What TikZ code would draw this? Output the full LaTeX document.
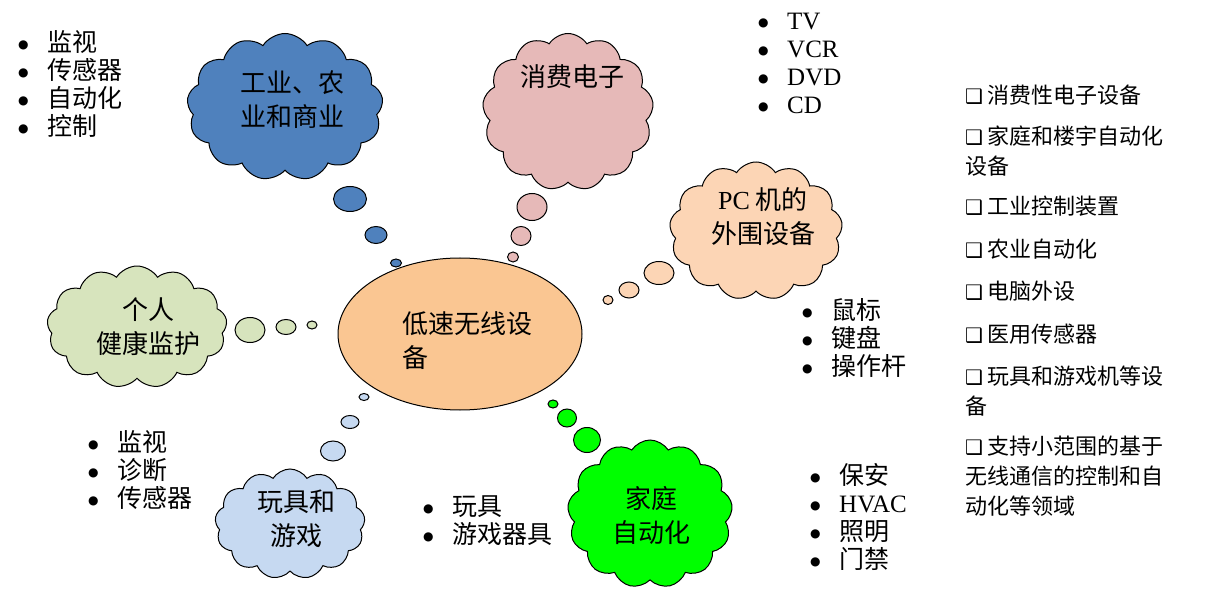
\documentclass[tikz,border=0pt]{standalone}
\usepackage{fontspec}
\setmainfont{Liberation Serif}
\newfontfamily\cjk{Noto Sans CJK SC}
\newfontfamily\symb{DejaVu Sans}
\usepackage{tikz}
\usetikzlibrary{shapes,shapes.symbols,positioning}
\definecolor{cloud-blue}{RGB}{79,129,189}
\definecolor{cloud-pink}{RGB}{230,185,184}
\definecolor{cloud-peach}{RGB}{252,213,181}
\definecolor{cloud-sage}{RGB}{215,228,189}
\definecolor{cloud-sky}{RGB}{198,217,241}
\definecolor{cloud-green}{RGB}{0,255,0}
\definecolor{core-orange}{RGB}{250,198,146}
\tikzstyle{thought}=[cloud, cloud puffs=13, cloud puff arc=115, draw, line width=1pt, inner sep=0pt]
\tikzstyle{core}=[ellipse, draw, line width=1pt, fill=core-orange]
\tikzstyle{bigtext}=[font=\fontsize{26}{34}\selectfont\cjk, align=center, inner sep=0pt]
\tikzstyle{itemlist}=[font=\fontsize{25}{28}\selectfont, align=left, anchor=north west, inner sep=0pt]
\tikzstyle{arealist}=[font=\fontsize{22}{30}\selectfont\cjk, align=left, anchor=north west, inner sep=0pt]
\newcommand{\bul}{\makebox[29pt][l]{\raisebox{3pt}{\symb\fontsize{12}{12}\selectfont ●}}}
\newcommand{\sqbox}{{\symb\bfseries\fontsize{20}{20}\selectfont ❑}\hspace{4pt}}

\begin{document}
\begin{tikzpicture}[x=1pt,y=-1pt]
	\useasboundingbox (0,0) rectangle (1209,593);
	% thought clouds
	\node[thought, fill=cloud-blue, minimum width=196pt, minimum height=147pt] (ind) at (285,107) {};
	\node[thought, fill=cloud-pink, minimum width=171pt, minimum height=157pt] (cons) at (568,112) {};
	\node[thought, fill=cloud-peach, minimum width=173pt, minimum height=138pt] (pc) at (756,231) {};
	\node[thought, fill=cloud-sage, minimum width=180pt, minimum height=122pt] (health) at (137,327) {};
	\node[thought, fill=cloud-sky, minimum width=150pt, minimum height=110pt] (toys) at (290,524) {};
	\node[thought, fill=cloud-green, minimum width=165pt, minimum height=148pt] (home) at (650,514) {};
	\node[bigtext] (ind-txt) at (292,100) {工业、农\\业和商业};
	\node[bigtext] (cons-txt) at (572,77) {消费电子};
	\node[bigtext] (pc-txt) at (763,217) {{\rmfamily PC} 机的\\外围设备};
	\node[bigtext] (health-txt) at (148,327) {个人\\健康监护};
	\node[bigtext] (toys-txt) at (296,519) {玩具和\\游戏};
	\node[bigtext] (home-txt) at (651,516) {家庭\\自动化};
	% centre
	\node[core, minimum width=244pt, minimum height=152pt] (lr) at (460,334) {};
	\node[bigtext, align=left, anchor=west] (lr-txt) at (402,341) {低速无线设\\备};
	% bubbles
	\foreach \x/\y/\rx/\ry/\c in {350/199/16.5/12.5/cloud-blue, 376/235/11/8.5/cloud-blue, 396/263/5.5/4/cloud-blue,
		532/207/15/13.5/cloud-pink, 521/236/10/9.5/cloud-pink, 513/257/5.5/5/cloud-pink,
		659/273/15/11.5/cloud-peach, 629/290/10/8/cloud-peach, 608/300/5/4.5/cloud-peach,
		250/330/15/12.5/cloud-sage, 286/327/10/7.5/cloud-sage, 312/325/5/4/cloud-sage,
		333/451/12.5/10/cloud-sky, 350/422/9/6.5/cloud-sky, 364/397/5/3.5/cloud-sky,
		587/440/13.5/12.5/cloud-green, 567/418/9.5/9/cloud-green, 553/404/5/4/cloud-green}
		\filldraw[fill=\c, line width=1pt] (\x,\y) ellipse (\rx pt and \ry pt);
	% bullet lists
	\node[itemlist] (ind-list) at (18,30) {\bul{\cjk 监视}\\\bul{\cjk 传感器}\\\bul{\cjk 自动化}\\\bul{\cjk 控制}};
	\node[itemlist] (cons-list) at (758,13) {\bul TV\\\bul VCR\\\bul DVD\\\bul CD};
	\node[itemlist] (pc-list) at (802,298) {\bul{\cjk 鼠标}\\\bul{\cjk 键盘}\\\bul{\cjk 操作杆}};
	\node[itemlist] (home-list) at (810,463) {\bul{\cjk 保安}\\\bul HVAC\\\bul{\cjk 照明}\\\bul{\cjk 门禁}};
	\node[itemlist] (health-list) at (88,430) {\bul{\cjk 监视}\\\bul{\cjk 诊断}\\\bul{\cjk 传感器}};
	\node[itemlist] (toys-list) at (423,495) {\bul{\cjk 玩具}\\\bul{\cjk 游戏器具}};
	% application areas
	\node[arealist] (area1) at (965,85) {\sqbox 消费性电子设备};
	\node[arealist] (area2) at (965,126) {\sqbox 家庭和楼宇自动化\\设备};
	\node[arealist] (area3) at (965,196) {\sqbox 工业控制装置};
	\node[arealist] (area4) at (965,239) {\sqbox 农业自动化};
	\node[arealist] (area5) at (965,281) {\sqbox 电脑外设};
	\node[arealist] (area6) at (965,324) {\sqbox 医用传感器};
	\node[arealist] (area7) at (965,366) {\sqbox 玩具和游戏机等设\\备};
	\node[arealist] (area8) at (965,436) {\sqbox 支持小范围的基于\\无线通信的控制和自\\动化等领域};
\end{tikzpicture}
\end{document}
